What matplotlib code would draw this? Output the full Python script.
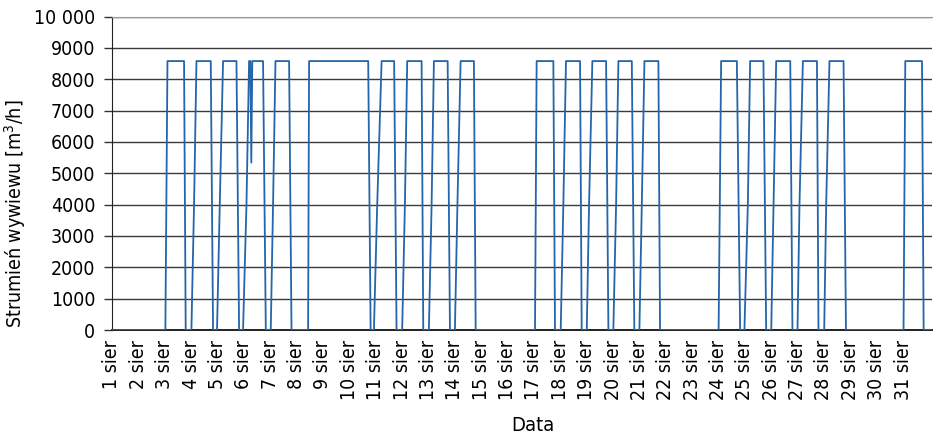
import numpy as np
import matplotlib
matplotlib.use("Agg")
import matplotlib.pyplot as plt

plt.rcParams['font.family'] = ['DejaVu Sans']
plt.rcParams['font.stretch'] = 'condensed'

# Czas w godzinach od 1 sierpnia 00:00
on_h = [48.6, 72.3, 95.6, 119.3, 144.5, 178.5, 238.4, 264.1, 288.4, 312.1, 385.0,
        408.4, 432.1, 456.3, 480.0, 552.1, 575.6, 600.0, 623.9, 648.2, 720.4]
mid_h = [None, 74.7, 98.1, 122.4, 146.6, None, 241.4, 266.6, 290.9, 314.4, None,
         410.8, 434.2, 458.8, 482.2, None, 578.7, 602.1, 625.7, 650.0, None]
top_h = [50.5, 76.9, 101.1, 124.8, 148.8, 179.4, 245.4, 268.7, 293.0, 317.3, 386.5,
         413.2, 437.2, 460.9, 484.6, 554.4, 580.8, 604.5, 628.8, 653.0, 722.0]
end_h = [65.6, 89.9, 113.3, 137.5, 161.2, 233.2, 256.8, 281.8, 305.5, 329.4, 401.7,
         426.0, 449.7, 473.1, 497.3, 568.7, 592.9, 617.3, 641.6, 665.8, 737.2]
off_h = [67.1, 92.0, 115.7, 140.0, 163.4, 235.4, 259.0, 283.3, 307.6, 331.0, 403.2,
         427.5, 451.8, 475.4, 498.8, 571.7, 595.4, 619.3, 643.0, 668.0, 738.7]
q_top = 8580
q_mid = 4000
# chwilowy spadek 6 sierpnia
dip_h = [125.9, 126.8, 127.7]
dip_q = [8580, 5340, 8580]

day_labels = [f"{d} sier" for d in range(1, 32)]
y_ticks = list(range(0, 10001, 1000))
y_labels = ["10 000" if v == 10000 else str(v) for v in y_ticks]

# zlozenie przebiegu
hrs, flow = [0.0], [0]
for i in range(len(on_h)):
    hrs.append(on_h[i]); flow.append(0)
    if mid_h[i] is not None:
        hrs.append(mid_h[i]); flow.append(q_mid)
    hrs.append(top_h[i]); flow.append(q_top)
    if on_h[i] < dip_h[1] < end_h[i]:
        hrs += dip_h; flow += dip_q
    hrs.append(end_h[i]); flow.append(q_top)
    hrs.append(off_h[i]); flow.append(0)
hrs.append(746.0); flow.append(0)

base = np.datetime64('2015-08-01T00:00')
t = base + (np.array(hrs) * 60).round().astype(int).astype('timedelta64[m]')
days = base + np.arange(31).astype('timedelta64[D]')

fig = plt.figure(figsize=(9.37, 4.36), dpi=100)
ax = fig.add_axes([0.1195, 0.2431, 0.8748, 0.7189])

ax.plot(t, flow, color="#2465ab", lw=1.3, zorder=3)

ax.set_ylim(0, 10000)
ax.set_xlim(base, base + np.timedelta64(746, 'h'))
ax.set_yticks(y_ticks)
ax.set_yticklabels(y_labels, fontsize=14)
ax.set_xticks(days)
ax.set_xticklabels(day_labels, rotation=90, fontsize=14)
ax.tick_params(axis='x', length=0, pad=7)
ax.tick_params(axis='y', length=6, width=1, color="#333333", pad=6)

ax.grid(axis='y', color="#3a3a3a", lw=1.0, zorder=0)
ax.spines['right'].set_visible(False)
ax.spines['top'].set_color("#999999")
ax.spines['left'].set_color("#222222")
ax.spines['bottom'].set_color("#222222")
ax.spines['bottom'].set_linewidth(1.4)

ax.set_xlabel("Data", fontsize=14.5)
ax.xaxis.set_label_coords(0.513, -0.275)
ax.set_ylabel("Strumień wywiewu [m$^3$/h]", fontsize=14)
ax.yaxis.set_label_coords(-0.103, 0.37)

fig.savefig("out.png", dpi=100)
